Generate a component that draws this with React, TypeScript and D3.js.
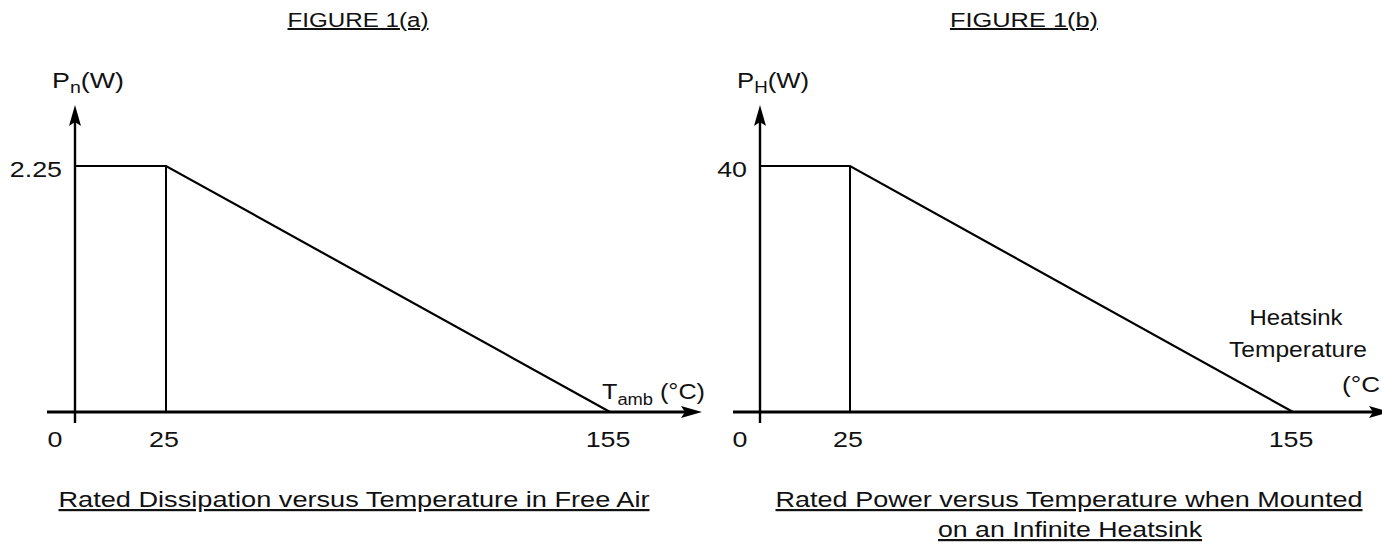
import React from "react";
import * as d3 from "d3";

// break points of the derating curve (deg C) and the power at each
const tempBreaks = [0, 25, 155];
const powerFreeAir = [2.25, 2.25, 0];
const powerHeatsink = [40, 40, 0];
const tickLabels = ["0", "25", "155"];

const FONT = "'Liberation Sans', Arial, Helvetica, sans-serif";

const axisY = 412;
const topY = 105;
const levelY = 166;
const SX = 1.22; // the scanned lettering is wider than it is tall

type LabelProps = {
    x: number;
    y: number;
    size?: number;
    anchor?: "start" | "middle" | "end";
    width?: number; // fit to a measured width when given
    underline?: boolean;
    children?: React.ReactNode;
};

const Label = ({x, y, size = 22, anchor = "start", width, underline, children}: LabelProps) => {
    if (width) {
        return (
            <text x={x} y={y} fontSize={size} fontFamily={FONT} textAnchor={anchor}
                  textDecoration={underline ? "underline" : undefined}
                  textLength={width} lengthAdjust="spacingAndGlyphs">{children}</text>
        );
    }
    return (
        <text transform={`translate(${x},${y}) scale(${SX},1)`} fontSize={size} fontFamily={FONT}
              textAnchor={anchor} textDecoration={underline ? "underline" : undefined}>{children}</text>
    );
};

type PanelProps = {
    xRange: number[];
    axisStart: number;
    axisEnd: number;
    values: number[];
    maxLabel: string;
    figure: string;
    figureX: number;
    figureW: number;
    yLabelSub: string;
    children?: React.ReactNode;
};

const Arrow = ({x, y, dir}: {x: number, y: number, dir: "up" | "right"}) => {
    const p = dir === "up"
        ? `M${x},${y} L${x - 6},${y + 21} L${x},${y + 17} L${x + 6},${y + 21} Z`
        : `M${x},${y} L${x - 21},${y - 6} L${x - 17},${y} L${x - 21},${y + 6} Z`;
    return <path d={p} fill="#000" />;
};

const Panel = (props: PanelProps) => {
    const {xRange, axisStart, axisEnd, values, maxLabel, figure, figureX, figureW, yLabelSub} = props;

    // schematic axis: breaks are not drawn to scale, so use a polylinear scale
    const x = d3.scaleLinear().domain(tempBreaks).range(xRange);
    const y = d3.scaleLinear().domain([0, d3.max(values) as number]).range([axisY, levelY]);

    const line = d3.line<number>()
        .x((d, i) => x(tempBreaks[i]))
        .y(d => y(d));

    const x0 = x(0);

    return (
        <g fill="#111">
            <Label x={figureX} y={27} size={20} anchor="middle" width={figureW} underline>{figure}</Label>

            {/* y axis */}
            <line x1={x0} x2={x0} y1={axisY + 11} y2={topY + 14} stroke="#000" strokeWidth={2.4} />
            <Arrow x={x0} y={topY} dir="up" />
            <Label x={x0 - 23} y={88} size={22} width={72}>
                P<tspan fontSize={16} dy={5}>{yLabelSub}</tspan><tspan dy={-5}>(W)</tspan>
            </Label>
            <Label x={x0 - 13} y={y(values[0]) + 11} anchor="end">{maxLabel}</Label>

            {/* x axis */}
            <line x1={axisStart} x2={axisEnd - 14} y1={axisY} y2={axisY} stroke="#000" strokeWidth={2.8} />
            <Arrow x={axisEnd} y={axisY} dir="right" />
            {tempBreaks.map((t, i) => (
                <Label key={i} x={i === 0 ? x(t) - 20 : x(t) - 2} y={447} anchor="middle">{tickLabels[i]}</Label>
            ))}

            {/* derating curve */}
            <path d={line(values) || ""} fill="none" stroke="#000" strokeWidth={2.2} />
            <line x1={x(tempBreaks[1])} x2={x(tempBreaks[1])} y1={y(values[1])} y2={axisY} stroke="#000" strokeWidth={2} />

            {props.children}
        </g>
    );
};

export default function App() {
    return (
        <svg width={1382} height={548} style={{position: "absolute", left: 0, top: 0, background: "#fff"}}>
            <Panel xRange={[75, 166, 610]} axisStart={47} axisEnd={702}
                   values={powerFreeAir} maxLabel="2.25" figure="FIGURE 1(a)" figureX={358} figureW={141}
                   yLabelSub="n">
                <Label x={602} y={399} width={103}>
                    T<tspan fontSize={16} dy={6}>amb</tspan><tspan dy={-6}> (°C)</tspan>
                </Label>
                <Label x={354} y={507} anchor="middle" width={591} underline>
                    Rated Dissipation versus Temperature in Free Air
                </Label>
            </Panel>
            <Panel xRange={[760, 850, 1293]} axisStart={733} axisEnd={1390}
                   values={powerHeatsink} maxLabel="40" figure="FIGURE 1(b)" figureX={1024} figureW={148}
                   yLabelSub="H">
                <Label x={1296} y={325} anchor="middle" width={93}>Heatsink</Label>
                <Label x={1298} y={357} anchor="middle" width={138}>Temperature</Label>
                <Label x={1342} y={392} width={38}>(°C</Label>
                <Label x={1069} y={507} anchor="middle" width={587} underline>
                    Rated Power versus Temperature when Mounted
                </Label>
                <Label x={1070} y={537} anchor="middle" width={264} underline>
                    on an Infinite Heatsink
                </Label>
            </Panel>
        </svg>
    );
}
